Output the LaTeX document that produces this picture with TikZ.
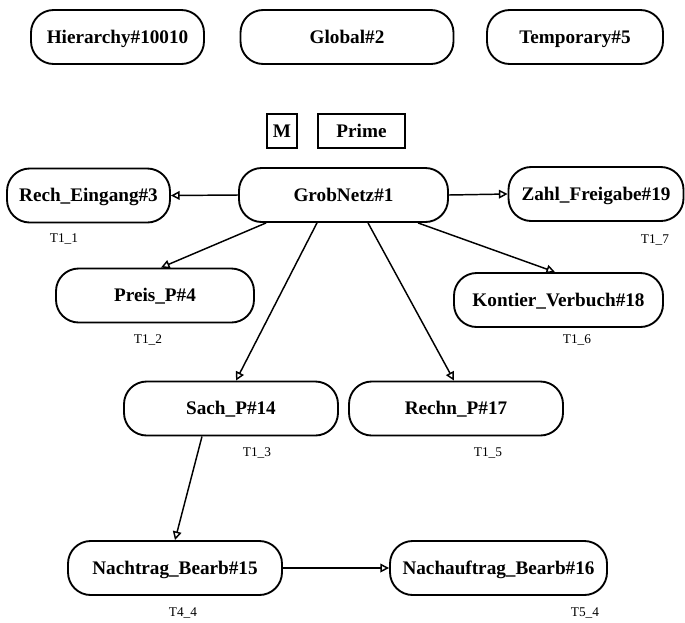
\documentclass[tikz,border=0pt]{standalone}
\usepackage{fontspec}
\setmainfont{Liberation Serif}
\usetikzlibrary{arrows.meta}

\begin{document}
\begin{tikzpicture}[x=0.75pt,y=-0.75pt]
\useasboundingbox (0,0) rectangle (685,622);
\begin{scope}[
    every node/.style={rectangle,rounded corners=17pt,draw=black,line width=1.4pt,
        font=\fontsize{14.4}{16}\selectfont\bfseries,minimum height=40.5pt,inner sep=0pt,
        text height=9.6pt,text depth=0pt}]
    % % top row
    \node (10010) at (117.5, 37) [minimum width=129.75pt] {Hierarchy\#10010};
    \node (2) at (347, 37) [minimum width=159.75pt] {Global\#2};
    \node (5) at (575, 37) [minimum width=132pt] {Temporary\#5};

    % % M / Prime
    \node (m) at (282, 131) [rounded corners=0pt,line width=1.2pt,minimum width=22.5pt,minimum height=25.5pt] {M};
    \node (prime) at (361.5, 131) [rounded corners=0pt,line width=1.2pt,minimum width=65pt,minimum height=25.5pt] {Prime};

    % % 1st level
    \node (1) at (343.5, 195) [minimum width=156.75pt] {GrobNetz\#1};
    \node (3) at (88.5, 195.5) [minimum width=122.25pt] {Rech\_Eingang\#3};
    \node (19) at (596, 194) [minimum width=131.25pt] {Zahl\_Freigabe\#19};
    \node (4) at (155, 295.5) [minimum width=148.5pt] {Preis\_P\#4};
    \node (18) at (558.5, 300) [minimum width=156.75pt] {Kontier\_Verbuch\#18};
    \node (14) at (231, 408.5) [minimum width=160.5pt] {Sach\_P\#14};
    \node (17) at (456, 408.5) [minimum width=160.5pt] {Rechn\_P\#17};

    % % 2nd level
    \node (15) at (175, 568) [minimum width=160.5pt] {Nachtrag\_Bearb\#15};
    \node (16) at (498.5, 568) [minimum width=162.75pt] {Nachauftrag\_Bearb\#16};
\end{scope}

\begin{scope}[every node/.style={font=\fontsize{10}{12}\selectfont,inner sep=0pt}]
    \node (t11) at (64, 239) {T1\_1};
    \node (t12) at (148, 340) {T1\_2};
    \node (t13) at (257, 453) {T1\_3};
    \node (t15) at (488, 453) {T1\_5};
    \node (t16) at (577, 340) {T1\_6};
    \node (t17) at (655, 240) {T1\_7};
    \node (t44) at (183, 613) {T4\_4};
    \node (t54) at (585, 613) {T5\_4};
\end{scope}

\begin{scope}[>={Triangle[open,length=6.5pt,width=6.5pt]},
              every path/.style={line width=1.1pt}]
    \path [->] (1.west) edge (3.east);
    \path [->] (1.east) edge (19.west);
    \path [->] ([xshift=-58.1pt]1.south) edge ([xshift=4.5pt]4.north);
    \path [->] ([xshift=-19.9pt]1.south) edge ([xshift=3.75pt]14.north);
    \path [->] ([xshift=18.4pt]1.south) edge ([xshift=-1.5pt]17.north);
    \path [->] ([xshift=55.9pt]1.south) edge ([xshift=-2.6pt]18.north);

    \path [->] ([xshift=-21.75pt]14.south) edge (15.north);
    \path [->] (15.east) edge (16.west);
\end{scope}
\end{tikzpicture}
\end{document}
